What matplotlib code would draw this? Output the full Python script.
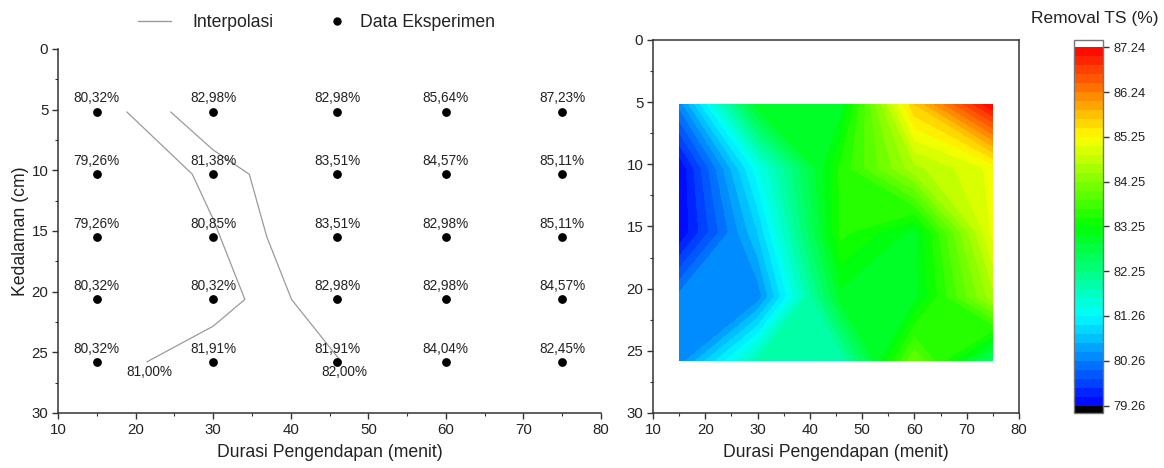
import numpy as np
import matplotlib
matplotlib.use('Agg')
import matplotlib.pyplot as plt
from matplotlib.colors import LinearSegmentedColormap
from matplotlib.lines import Line2D
from matplotlib.ticker import MultipleLocator

plt.rcParams['font.family'] = ['Liberation Sans', 'DejaVu Sans']

# ---------------- data ----------------
durasi = [15, 30, 46, 60, 75]                    # menit
kedalaman = [5.16, 10.32, 15.48, 20.64, 25.8]    # cm
removal = [
    [80.32, 82.98, 82.98, 85.64, 87.23],
    [79.26, 81.38, 83.51, 84.57, 85.11],
    [79.26, 80.85, 83.51, 82.98, 85.11],
    [80.32, 80.32, 82.98, 82.98, 84.57],
    [80.32, 81.91, 81.91, 84.04, 82.45],
]
interp_levels = [81.0, 82.0]
cbar_ticks = [79.26, 80.26, 81.26, 82.25, 83.25, 84.25, 85.25, 86.24, 87.24]
cbar_min, cbar_max = 79.26, 87.24

X, Y = np.meshgrid(durasi, kedalaman)
Z = np.array(removal)

def fmt_id(v):
    return f"{v:.2f}".replace('.', ',') + '%'

fig = plt.figure(figsize=(11.64, 4.68), dpi=100)
txt = '#222222'
spc = '#333333'

def style_axes(ax):
    ax.set_xlim(10, 80)
    ax.set_ylim(30, 0)
    ax.xaxis.set_major_locator(MultipleLocator(10))
    ax.xaxis.set_minor_locator(MultipleLocator(5))
    ax.yaxis.set_major_locator(MultipleLocator(5))
    ax.yaxis.set_minor_locator(MultipleLocator(2.5))
    ax.tick_params(which='major', direction='out', length=4, width=1, colors=spc,
                   labelsize=10.8, labelcolor=txt, pad=3)
    ax.tick_params(which='minor', direction='out', length=2.5, width=0.8, colors=spc)
    for s in ax.spines.values():
        s.set_color(spc)
        s.set_linewidth(1.1)
    ax.set_xlabel('Durasi Pengendapan (menit)', fontsize=12.7, color=txt, labelpad=5)

# ---------------- left plot ----------------
ax1 = fig.add_axes([58/1164, 1-413/468, (601-58)/1164, (413-49)/468])
style_axes(ax1)
ax1.spines['top'].set_visible(False)
ax1.spines['right'].set_visible(False)
ax1.set_ylabel('Kedalaman (cm)', fontsize=12.7, color=txt, labelpad=2)

cs = ax1.contour(X, Y, Z, levels=interp_levels, colors='#9a9a9a', linewidths=0.9)
ax1.scatter(X.ravel(), Y.ravel(), s=28, color='black', zorder=3)
for i, yv in enumerate(kedalaman):
    for j, xv in enumerate(durasi):
        ax1.annotate(fmt_id(removal[i][j]), (xv, yv), xytext=(0, 4.5),
                     textcoords='offset points', ha='center', va='bottom',
                     fontsize=9.8, color=txt)

# label each interpolation line at its lower end
for lev, path in zip(cs.levels, cs.get_paths()):
    v = path.vertices
    if len(v) == 0:
        continue
    k = np.argmax(v[:, 1])
    ax1.annotate(fmt_id(lev), (v[k, 0], v[k, 1]), xytext=(2, -2),
                 textcoords='offset points', ha='center', va='top',
                 fontsize=9.8, color=txt)

# legend (two entries placed side by side)
leg1 = fig.legend([Line2D([], [], color='#9a9a9a', lw=1)], ['Interpolasi'],
                  loc='center', bbox_to_anchor=(0.1765, 0.952), frameon=False,
                  fontsize=12.7, handlelength=1.9, handletextpad=1.2,
                  labelcolor=txt)
leg2 = fig.legend([Line2D([], [], marker='o', color='black', ls='none', ms=5)],
                  ['Data Eksperimen'], loc='center',
                  bbox_to_anchor=(0.3535, 0.952), frameon=False, fontsize=12.7,
                  handlelength=1.0, handletextpad=0.8, labelcolor=txt)

# ---------------- right plot ----------------
ax2 = fig.add_axes([653/1164, 1-413/468, (1019-653)/1164, (413-40)/468])
style_axes(ax2)

cmap = LinearSegmentedColormap.from_list(
    'rainbow_origin', ['#0000ff', '#00ffff', '#00ff00', '#ffff00', '#ff0000'])
cmap.set_under('black')
cmap.set_over('white')
levels = np.linspace(cbar_min, cbar_max, 41)
cf = ax2.contourf(X, Y, Z, levels=levels, cmap=cmap, extend='both')

cax = fig.add_axes([1074/1164, 1-413/468, 29/1164, (413-40)/468])
cb = fig.colorbar(cf, cax=cax, ticks=cbar_ticks, format='%.2f',
                  extendrect=True, extendfrac=0.02)
cb.outline.set_edgecolor('#777777')
cb.outline.set_linewidth(1)
cax.tick_params(direction='out', length=4, width=1, colors=spc,
                labelsize=9.3, labelcolor=txt)
cax.minorticks_off()
fig.text(1095/1164, 1-18/468, 'Removal TS (%)', ha='center', va='center',
         fontsize=12.5, color=txt)

fig.savefig('out.png', dpi=100)
